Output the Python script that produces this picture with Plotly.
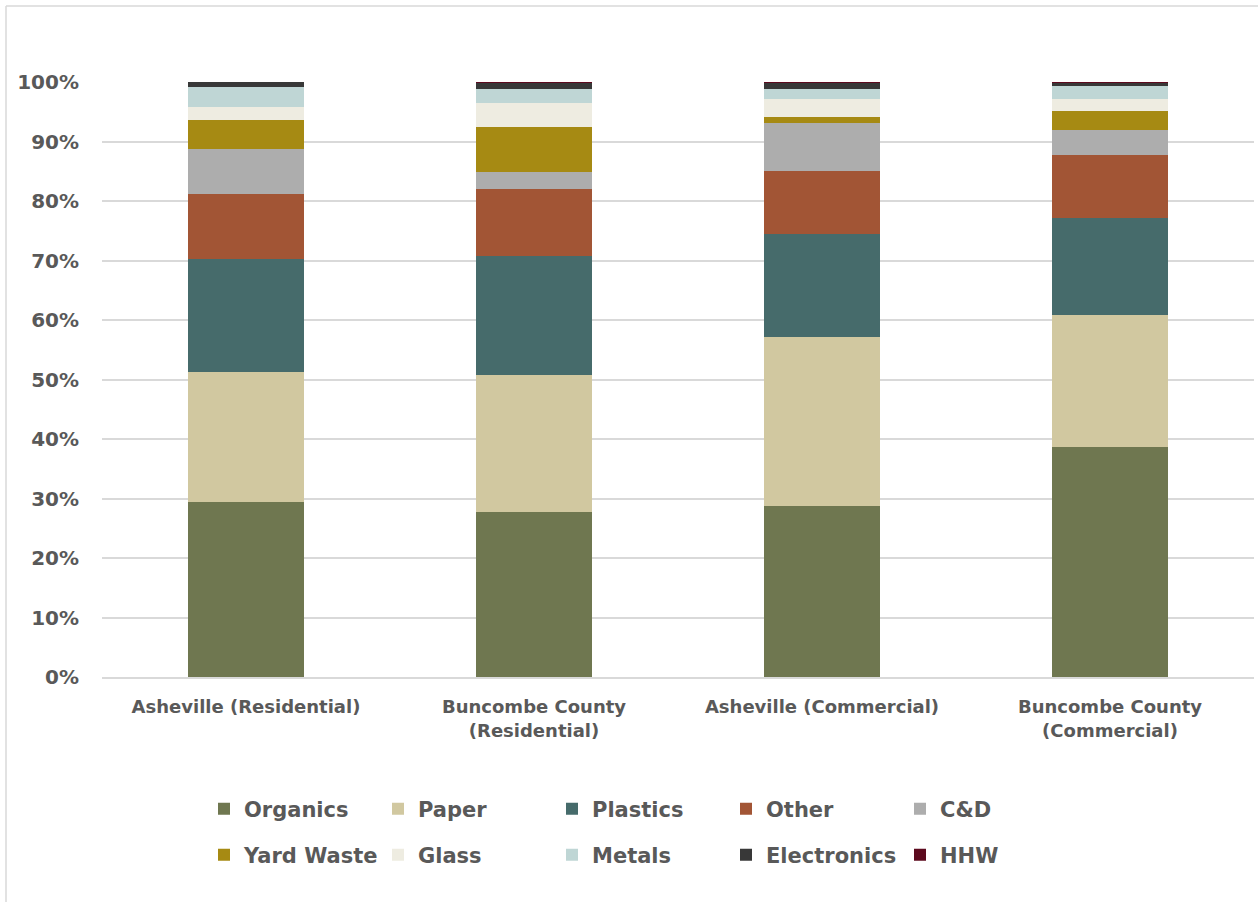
import plotly.graph_objects as go

categories = ["Asheville (Residential)", "Buncombe County<br>(Residential)",
              "Asheville (Commercial)", "Buncombe County<br>(Commercial)"]

organics    = [29.4, 27.7, 28.7, 38.7]
paper       = [21.9, 23.1, 28.4, 22.1]
plastics    = [19.0, 20.0, 17.4, 16.3]
other       = [10.9, 11.2, 10.6, 10.7]
cd          = [7.6, 2.9, 8.0, 4.2]
yard_waste  = [4.8, 7.5, 1.1, 3.1]
glass       = [2.2, 4.0, 2.9, 2.0]
metals      = [3.4, 2.5, 1.8, 2.3]
electronics = [0.8, 1.0, 1.0, 0.5]
hhw         = [0.05, 0.1, 0.1, 0.1]

y_ticks = [0, 10, 20, 30, 40, 50, 60, 70, 80, 90, 100]
y_tick_labels = ["0%", "10%", "20%", "30%", "40%", "50%", "60%", "70%", "80%", "90%", "100%"]

series = [
    ("Organics", organics, "#6f7750", "legend"),
    ("Paper", paper, "#d1c8a0", "legend"),
    ("Plastics", plastics, "#466b6b", "legend"),
    ("Other", other, "#a25535", "legend"),
    ("C&D", cd, "#adadad", "legend"),
    ("Yard Waste", yard_waste, "#a68a13", "legend2"),
    ("Glass", glass, "#eeece1", "legend2"),
    ("Metals", metals, "#bfd6d5", "legend2"),
    ("Electronics", electronics, "#383838", "legend2"),
    ("HHW", hhw, "#5c0a1e", "legend2"),
]

FONT = "DejaVu Sans"
GRAY = "#595959"

fig = go.Figure()
for name, vals, color, lg in series:
    fig.add_trace(go.Bar(
        x=categories, y=vals, name=name, marker=dict(color=color, line=dict(width=0)),
        legend=lg,
    ))

W, H = 1258, 902
L, R, T, B = 102, 4, 82, 225
pw = W - L - R
ph = H - T - B

def px(xp):
    return (xp - L) / pw

def py(yp):
    return (H - B - yp) / ph

legend_common = dict(
    orientation="h", xanchor="left", yanchor="middle", traceorder="normal",
    font=dict(family=FONT, size=21, color=GRAY, weight="bold"),
    entrywidth=129, entrywidthmode="pixels", itemwidth=30,
    bgcolor="rgba(0,0,0,0)", tracegroupgap=0,
)

fig.update_layout(
    width=W, height=H,
    margin=dict(l=L, r=R, t=T, b=B),
    barmode="stack", bargap=0.6,
    paper_bgcolor="white", plot_bgcolor="white",
    font=dict(family=FONT, color=GRAY),
    legend=dict(x=px(204), y=py(809), **legend_common),
    legend2=dict(x=px(204), y=py(855), **legend_common),
    xaxis=dict(
        tickfont=dict(family=FONT, size=18, color=GRAY, weight="bold"),
        showgrid=False, showline=True, linecolor="#d9d9d9", linewidth=1.5,
        ticks="", ticklabelstandoff=13,
    ),
    yaxis=dict(
        range=[0, 100], tickmode="array", tickvals=y_ticks, ticktext=y_tick_labels,
        tickfont=dict(family=FONT, size=20, color=GRAY, weight="bold"),
        showgrid=True, gridcolor="#d9d9d9", gridwidth=1.5,
        zeroline=False, showline=False, ticks="", ticklabelstandoff=22,
    ),
    shapes=[
        dict(type="line", xref="paper", yref="paper", x0=px(6), x1=px(1258), y0=py(6), y1=py(6),
             line=dict(color="#d9d9d9", width=1.5)),
        dict(type="line", xref="paper", yref="paper", x0=px(6), x1=px(6), y0=py(6), y1=py(902),
             line=dict(color="#d9d9d9", width=1.5)),
    ],
)

fig.write_html("out.html", config={"displayModeBar": False},
               post_script="document.body.style.margin='0';")
